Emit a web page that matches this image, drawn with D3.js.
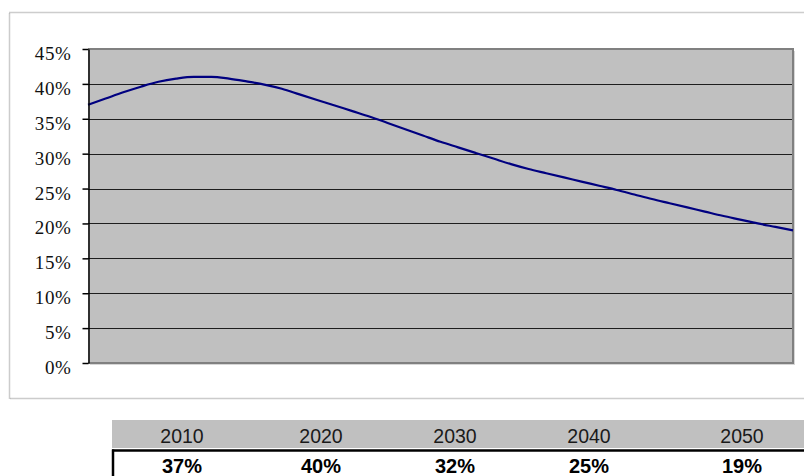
<!DOCTYPE html>
<html>
<head>
<meta charset="utf-8">
<script src="https://cdn.jsdelivr.net/npm/d3@7"></script>
<style>
  html, body { margin: 0; padding: 0; background: #fff; }
  svg { display: block; }
</style>
</head>
<body>
<svg id="chart" width="804" height="476"></svg>
<script>
// Yearly share, 2010–2050
const years = d3.range(2010, 2051);
const shares = [
  37.0, 37.9, 38.8, 39.6, 40.3, 40.75, 41.0, 41.0, 40.75, 40.35,
  39.9, 39.3, 38.5, 37.7, 36.9, 36.1, 35.3, 34.4, 33.5, 32.6,
  31.7, 30.9, 30.1, 29.3, 28.5, 27.8, 27.2, 26.6, 26.0, 25.4,
  24.8, 24.15, 23.5, 22.9, 22.3, 21.7, 21.1, 20.55, 20.0, 19.5,
  19.0
];
const yTicks = [0, 5, 10, 15, 20, 25, 30, 35, 40, 45];
const tableYears = [2010, 2020, 2030, 2040, 2050];

const series = years.map((y, i) => ({ year: y, value: shares[i] / 100 }));

const svg = d3.select("#chart");
const pct = d3.format(".0%");

// Chart frame (dotted)
svg.append("rect")
  .attr("x", 9.5).attr("y", 12.5)
  .attr("width", 820).attr("height", 386)
  .attr("fill", "none")
  .attr("stroke", "#9a9a9a")
  .attr("stroke-width", 1.5)
  .attr("stroke-dasharray", "1,1");

const plot = { left: 88, right: 793, top: 49, bottom: 363 };

const x = d3.scaleLinear().domain([2010, 2050]).range([plot.left, plot.right]);
const y = d3.scaleLinear().domain([0, 0.45]).range([plot.bottom, plot.top]);

// Plot area background and drop shadow
svg.append("rect")
  .attr("x", plot.left + 2).attr("y", plot.top + 2)
  .attr("width", plot.right - plot.left).attr("height", plot.bottom - plot.top)
  .attr("fill", "#d6d6d6");
svg.append("rect")
  .attr("x", plot.left).attr("y", plot.top)
  .attr("width", plot.right - plot.left).attr("height", plot.bottom - plot.top)
  .attr("fill", "#c0c0c0");

// Horizontal gridlines
svg.append("g")
  .selectAll("line")
  .data(yTicks.filter(t => t > 0 && t < 45))
  .join("line")
  .attr("x1", plot.left).attr("x2", plot.right - 1)
  .attr("y1", d => Math.round(y(d / 100)) + 0.5)
  .attr("y2", d => Math.round(y(d / 100)) + 0.5)
  .attr("stroke", "#1e1e1e")
  .attr("stroke-width", 1);

// Plot border (top, right, bottom)
svg.append("path")
  .attr("d", `M${plot.left},${plot.top} H${plot.right} V${plot.bottom} H${plot.left}`)
  .attr("fill", "none")
  .attr("stroke", "#808080")
  .attr("stroke-width", 2);

// Series line
const line = d3.line()
  .x(d => x(d.year))
  .y(d => y(d.value))
  .curve(d3.curveMonotoneX);

svg.append("path")
  .datum(series)
  .attr("d", line)
  .attr("fill", "none")
  .attr("stroke", "#000080")
  .attr("stroke-width", 2.2)
  .attr("stroke-linejoin", "round");

// Left axis
const yAxis = d3.axisLeft(y)
  .tickValues(yTicks.map(t => t / 100))
  .tickFormat(pct)
  .tickSize(6)
  .tickSizeOuter(0)
  .tickPadding(11);

const gy = svg.append("g")
  .attr("transform", `translate(${plot.left + 0.5},0)`)
  .call(yAxis);
gy.select(".domain").attr("stroke", "#000").attr("stroke-width", 1.5);
gy.selectAll(".tick line").attr("stroke", "#000").attr("stroke-width", 1.5);
gy.selectAll(".tick text")
  .attr("dy", "0.55em")
  .attr("fill", "#111")
  .style("font-family", "'Liberation Serif', 'Times New Roman', serif")
  .style("font-size", "19px")
  .style("letter-spacing", "0.6px");

// Data table below the chart
const table = { left: 112, headTop: 420, headBottom: 448, rowLine: 450.5 };
const col = d3.scaleOrdinal()
  .domain(tableYears)
  .range([182, 321, 455, 589, 742]);

svg.append("rect")
  .attr("x", table.left).attr("y", table.headTop)
  .attr("width", 804 - table.left).attr("height", table.headBottom - table.headTop)
  .attr("fill", "#c0c0c0");

svg.append("line")
  .attr("x1", table.left).attr("x2", 804)
  .attr("y1", table.rowLine).attr("y2", table.rowLine)
  .attr("stroke", "#000").attr("stroke-width", 2.5);
svg.append("line")
  .attr("x1", table.left + 1).attr("x2", table.left + 1)
  .attr("y1", table.rowLine - 1).attr("y2", 476)
  .attr("stroke", "#000").attr("stroke-width", 2.5);

const tableData = tableYears.map(yr => series.find(d => d.year === yr));

svg.append("g")
  .selectAll("text")
  .data(tableData)
  .join("text")
  .attr("x", d => col(d.year))
  .attr("y", 443)
  .attr("text-anchor", "middle")
  .attr("fill", "#1a1a1a")
  .style("font-family", "'Liberation Sans', Arial, sans-serif")
  .style("font-size", "19.5px")
  .text(d => d.year);

svg.append("g")
  .selectAll("text")
  .data(tableData)
  .join("text")
  .attr("x", d => col(d.year))
  .attr("y", 473)
  .attr("text-anchor", "middle")
  .attr("fill", "#000")
  .style("font-family", "'Liberation Sans', Arial, sans-serif")
  .style("font-size", "20px")
  .style("font-weight", "bold")
  .text(d => pct(d.value));
</script>
</body>
</html>
